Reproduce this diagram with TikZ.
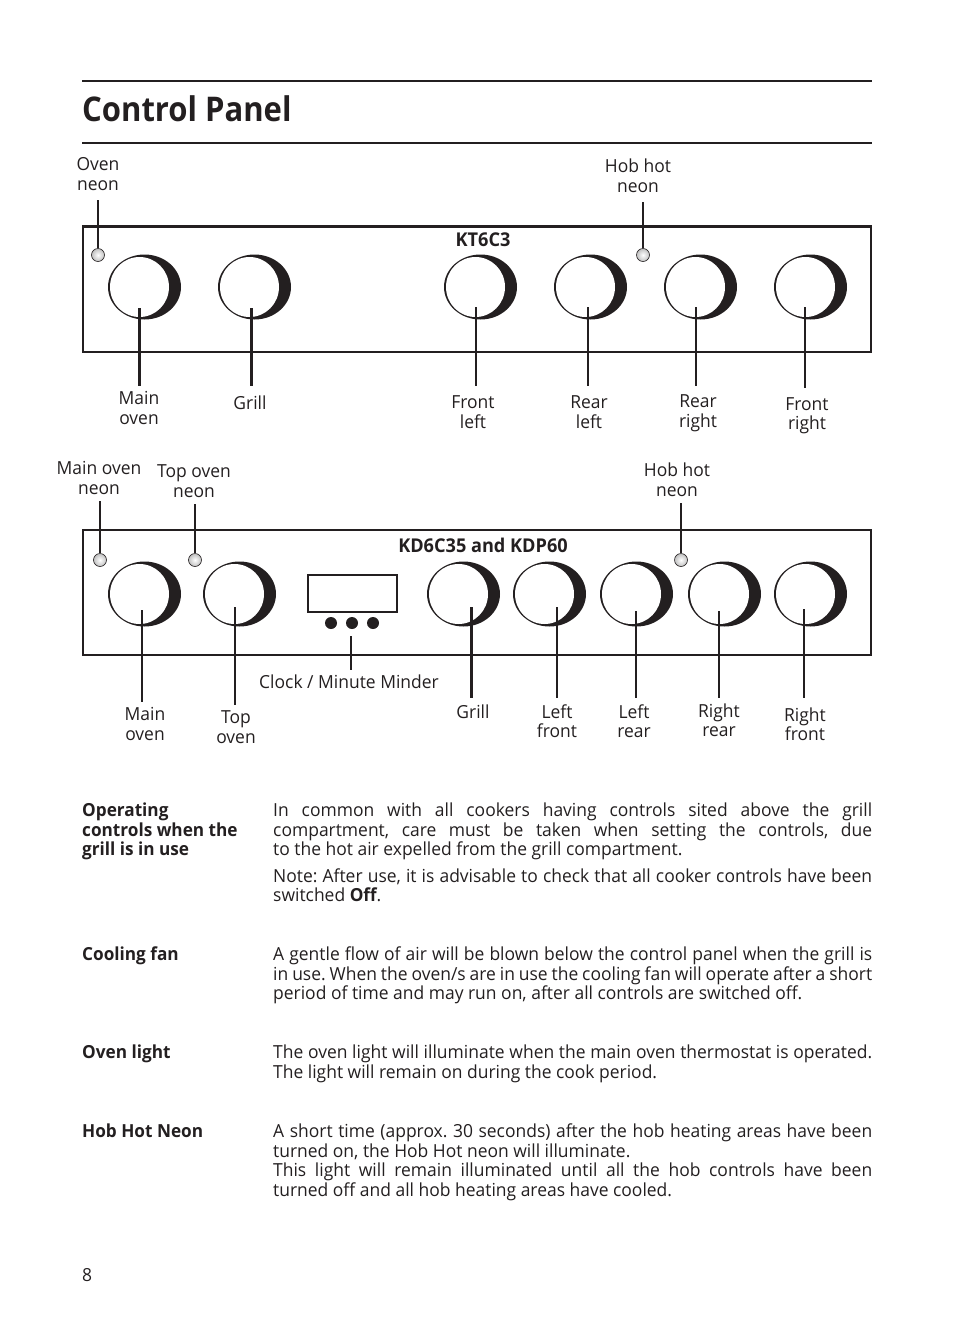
\documentclass[tikz,border=0pt]{standalone}
\usepackage{fontspec}
\setmainfont{Open Sans}[FakeStretch=0.97, BoldFeatures={FakeStretch=0.955}]
\newfontfamily\titlefont{Open Sans}[FakeStretch=0.912]
\usetikzlibrary{shapes.geometric,positioning,calc}
\definecolor{panelink}{RGB}{35,31,32}
\newcommand{\bodyfont}{\fontsize{18}{19.5}\selectfont}
\tikzset{
    panel/.style={rectangle, draw=panelink, line width=2pt, minimum width=788pt, minimum height=125pt},
    knobdark/.style={ellipse, fill=panelink, minimum width=73pt, minimum height=65pt, inner sep=0pt},
    knobface/.style={ellipse, fill=white, minimum width=59pt, minimum height=60pt, inner sep=0pt},
    neon/.style={circle, draw=panelink, line width=0.6pt, inner color=white, outer color=black!25, minimum size=13pt, inner sep=0pt},
    keydot/.style={circle, fill=panelink, minimum size=12pt, inner sep=0pt},
    leg/.style={line width=1.5pt, panelink},
    legT/.style={line width=3pt, panelink},
    partlabel/.style={font=\bodyfont, align=center, inner sep=0pt, outer sep=5pt, text=panelink},
    model/.style={font=\fontsize{19}{20}\selectfont\bfseries, inner sep=0pt, text=panelink},
    headtext/.style={font=\bodyfont\bfseries, anchor=north west, align=left, inner sep=0pt, text=panelink},
    bodytext/.style={font=\bodyfont, anchor=north west, text width=599pt, align=justify, inner sep=0pt, text=panelink},
}
\begin{document}
\frenchspacing
\begin{tikzpicture}[x=1pt,y=-1pt]
    \useasboundingbox (0,0) rectangle (954,1336);

    % Heading
    \coordinate (ruleA) at (82,81);
    \coordinate (ruleB) at (82,143);
    \draw[panelink, line width=2pt] (ruleA) -- ++(790,0);
    \draw[panelink, line width=2pt] (ruleB) -- ++(790,0);
    \node[font=\fontsize{34}{36}\selectfont\titlefont\bfseries, anchor=west, inner sep=0pt, text=panelink] (title) at (82,109) {Control Panel};

    % KT6C3
    \node[panel] (panelA) at (477,289.5) {};
    \draw[panelink, line width=3pt] (panelA.north west) -- (panelA.north east);
    \node[model] (modelA) at (483,240) {KT6C3};
    \foreach \x/\name in {144.5/ka1, 254.5/ka2, 480.5/ka3, 590.5/ka4, 700.5/ka5, 810.5/ka6} {
        \node[knobdark] (\name) at (\x,287) {};
        \node[knobface] at (\x-5,287) {};
    }
    \foreach \x/\xl/\yl/\name/\txt in {
        98/98/174/na1/Oven\\neon,
        643/638/175.5/na2/Hob hot\\neon} {
        \node[partlabel] (\name) at (\xl,\yl) {\txt};
        \node[neon] (\name n) at (\x,255) {};
        \draw[leg, shorten >=5pt] (\name n) -- (\name n |- \name.south);
    }
    \foreach \x/\ytip/\yfoot/\xl/\yl/\st/\name/\txt in {
        139/308/386/139/408/legT/la1/Main\\oven,
        251/308/386/250/403/legT/la2/Grill,
        476/307/386/473/412/leg/la3/Front\\left,
        588/307/386/589/412/leg/la4/Rear\\left,
        696/307/386/698/413/leg/la5/Rear\\right,
        805/307/388/807/415.5/leg/la6/Front\\right} {
        \node[partlabel] (\name) at (\xl,\yl) {\txt};
        \coordinate (\name tip) at (\x,\ytip);
        \coordinate (\name foot) at (\x,\yfoot);
        \draw[\st] (\name tip) -- (\name foot);
    }

    % KD6C35 and KDP60
    \node[panel] (panelB) at (477,592.5) {};
    \node[model] (modelB) at (483,545) {KD6C35 and KDP60};
    \foreach \x/\name in {144.5/kb1, 239.5/kb2, 463.5/kb3, 549.5/kb4, 636.5/kb5, 724.5/kb6, 810.5/kb7} {
        \node[knobdark] (\name) at (\x,594) {};
        \node[knobface] at (\x-5,594) {};
    }
    \node[rectangle, draw=panelink, line width=2pt, minimum width=89pt, minimum height=37pt] (clock) at (352.5,593.5) {};
    \foreach \x/\name in {331/d1, 352/d2, 373/d3} {
        \node[keydot] (\name) at (\x,623) {};
    }
    \foreach \x/\xl/\yl/\name/\txt in {
        100/99/478/nb1/Main oven\\neon,
        195/194/481/nb2/Top oven\\neon,
        681/677/479.5/nb3/Hob hot\\neon} {
        \node[partlabel] (\name) at (\xl,\yl) {\txt};
        \node[neon] (\name n) at (\x,560) {};
        \draw[leg, shorten >=2pt] (\name n) -- (\name n |- \name.south);
    }
    \node[partlabel] (lclock) at (349,682) {Clock / Minute Minder};
    \coordinate (lclocktip) at (351,636);
    \draw[leg] (lclocktip) -- (lclocktip |- lclock.north);
    \foreach \x/\ytip/\yfoot/\xl/\yl/\st/\name/\txt in {
        142/610/702/145/724/leg/lb1/Main\\oven,
        235/607/705/236/727/leg/lb2/Top\\oven,
        471/607/698/473/712/legT/lb3/Grill,
        557/607/698/557/721/leg/lb4/Left\\front,
        636/611/698/634/721/leg/lb5/Left\\rear,
        719/611/698/719/720/leg/lb6/Right\\rear,
        804/609/698/805/724/leg/lb7/Right\\front} {
        \node[partlabel] (\name) at (\xl,\yl) {\txt};
        \coordinate (\name tip) at (\x,\ytip);
        \coordinate (\name foot) at (\x,\yfoot);
        \draw[\st] (\name tip) -- (\name foot);
    }

    % Text blocks
    \node[headtext] (h1) at (82,803) {Operating\\controls when the\\grill is in use};
    \node[bodytext] (t1) at (273,803) {In common with all cookers having controls sited above the grill\linebreak compartment, care must be taken when setting the controls, due\linebreak to the hot air expelled from the grill compartment.};
    \node[bodytext] (t1b) at (273,868.5) {Note: After use, it is advisable to check that all cooker controls have been\linebreak switched \textbf{Off}.};
    \node[headtext] (h2) at (82,947) {Cooling fan};
    \node[bodytext] (t2) at (273,947) {A gentle flow of air will be blown below the control panel when the grill is\linebreak in use. When the oven/s are in use the cooling fan will operate after a short\linebreak period of time and may run on, after all controls are switched off.};
    \node[headtext] (h3) at (82,1045) {Oven light};
    \node[bodytext] (t3) at (273,1045) {The oven light will illuminate when the main oven thermostat is operated.\linebreak The light will remain on during the cook period.};
    \node[headtext] (h4) at (82,1124) {Hob Hot Neon};
    \node[bodytext] (t4) at (273,1124) {A short time (approx. 30 seconds) after the hob heating areas have been\linebreak turned on, the Hob Hot neon will illuminate.\\ This light will remain illuminated until all the hob controls have been\linebreak turned off and all hob heating areas have cooled.};
    \node[font=\bodyfont, inner sep=0pt, text=panelink] (pageno) at (87,1275) {8};
\end{tikzpicture}
\end{document}
